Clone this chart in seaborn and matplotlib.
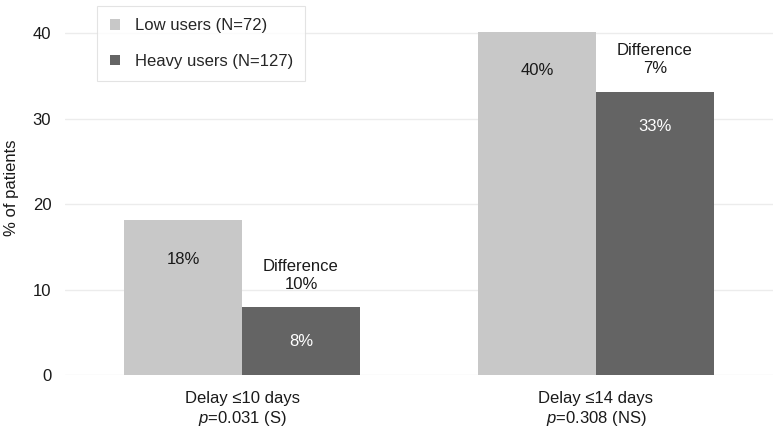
import matplotlib
matplotlib.use("Agg")
import matplotlib.pyplot as plt
import pandas as pd
import seaborn as sns

categories = ["Delay ≤10 days\n$p$=0.031 (S)", "Delay ≤14 days\n$p$=0.308 (NS)"]
groups = ["Low users (N=72)", "Heavy users (N=127)"]
low_values = [18.1, 40.2]
heavy_values = [7.9, 33.1]
differences = ["10%", "7%"]

df = pd.DataFrame({
    "category": categories * 2,
    "group": [groups[0]] * 2 + [groups[1]] * 2,
    "value": low_values + heavy_values,
})

sns.set_theme(style="whitegrid")
plt.rcParams["font.family"] = ["Liberation Sans", "DejaVu Sans"]
plt.rcParams["mathtext.fontset"] = "custom"
plt.rcParams["mathtext.rm"] = "Liberation Sans"
plt.rcParams["mathtext.it"] = "Liberation Sans:italic"

fig, ax = plt.subplots(figsize=(7.76, 4.28), dpi=100)
fig.subplots_adjust(left=0.084, right=0.996, top=1.0, bottom=0.124)

sns.barplot(data=df, x="category", y="value", hue="group",
            palette=["#c8c8c8", "#646464"], width=0.665, gap=0,
            saturation=1, linewidth=0, edgecolor="none", ax=ax)

ax.set_ylim(0, 43.9)
ax.set_xlim(-0.5, 1.5)
ax.set_yticks([0, 10, 20, 30, 40])
ax.grid(axis="y", color="#ececec", linewidth=1)
ax.grid(axis="x", visible=False)
for s in ax.spines.values():
    s.set_visible(False)
ax.tick_params(axis="both", labelsize=12, colors="#1a1a1a", length=0)
ax.tick_params(axis="x", pad=11.5)
ax.tick_params(axis="y", pad=10)
ax.set_xlabel("")
ax.set_ylabel("% of patients", fontsize=12, color="#1a1a1a", labelpad=10)

low_bars = ax.containers[0]
heavy_bars = ax.containers[1]
for bar in low_bars:
    x = bar.get_x() + bar.get_width() / 2
    h = bar.get_height()
    ax.text(x, h - 4.6, f"{h:.0f}%", ha="center", va="center", fontsize=12, color="#1a1a1a")
for bar, diff in zip(heavy_bars, differences):
    x = bar.get_x() + bar.get_width() / 2
    h = bar.get_height()
    ax.text(x, h - 4.0, f"{h:.0f}%", ha="center", va="center", fontsize=12, color="white")
    ax.text(x, h + 3.8, "Difference\n" + diff, ha="center", va="center",
            fontsize=12, color="#1a1a1a", linespacing=1.25)

leg = ax.legend(loc="upper left", bbox_to_anchor=(0.045, 0.985), fontsize=12,
                frameon=True, fancybox=False, edgecolor="#dddddd",
                handlelength=0.6, handleheight=0.6, borderpad=0.75,
                labelspacing=1.25, handletextpad=0.9, borderaxespad=0)
leg.get_frame().set_linewidth(0.8)

plt.savefig("out.png", dpi=100)
